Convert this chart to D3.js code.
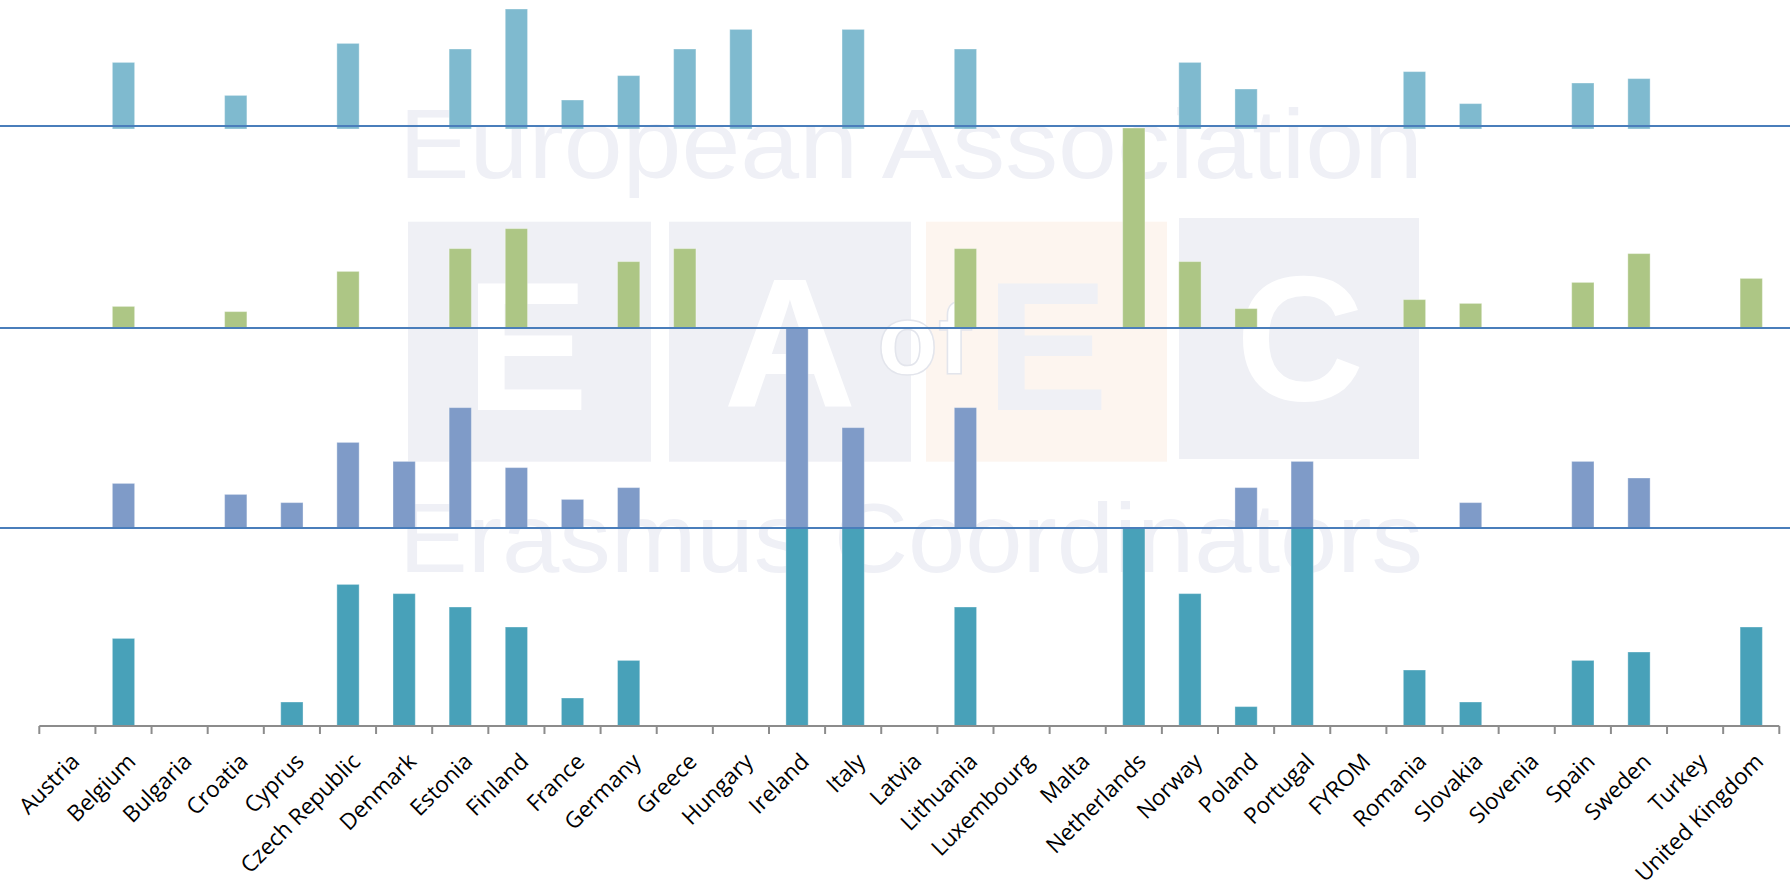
<!DOCTYPE html>
<html>
<head>
<meta charset="utf-8">
<script src="https://cdn.jsdelivr.net/npm/d3@7"></script>
<style>
html, body { margin: 0; padding: 0; background: #ffffff; }
svg { display: block; }
</style>
</head>
<body>
<svg id="chart" width="1790" height="888"></svg>
<script>
// ---------------- DATA ----------------
const categories = ["Austria", "Belgium", "Bulgaria", "Croatia", "Cyprus", "Czech Republic", "Denmark",
  "Estonia", "Finland", "France", "Germany", "Greece", "Hungary", "Ireland", "Italy", "Latvia",
  "Lithuania", "Luxembourg", "Malta", "Netherlands", "Norway", "Poland", "Portugal", "FYROM",
  "Romania", "Slovakia", "Slovenia", "Spain", "Sweden", "Turkey", "United Kingdom"];

// bottom panel (teal)
const seriesBottom = [0, 43.8, 0, 0, 12, 70.8, 66.2, 59.5, 49.5, 14, 32.8, 0, 0, 100, 100, 0,
  59.5, 0, 0, 100, 66.2, 9.7, 100, 0, 28, 12, 0, 32.8, 37, 0, 49.5];
// third panel (slate blue)
const seriesThird = [0, 22.3, 0, 16.8, 12.7, 42.8, 33.3, 60.2, 30.2, 14.3, 20.2, 0, 0, 100, 50.2, 0,
  60.2, 0, 0, 0, 0, 20.2, 33.3, 0, 0, 12.7, 0, 33.3, 25, 0, 0];
// second panel (green)
const seriesSecond = [0, 10.8, 0, 8.2, 0, 28.3, 0, 39.7, 49.7, 0, 33.2, 39.7, 0, 0, 0, 0,
  39.7, 0, 0, 100, 33.2, 9.7, 0, 0, 14.2, 12.3, 0, 22.8, 37.2, 0, 24.8];
// top panel (light blue)
const seriesTop = [0, 31.8, 0, 15.3, 0, 41.3, 0, 38.5, 58.5, 13, 25.2, 38.5, 48.3, 0, 48.3, 0,
  38.5, 0, 0, 0, 31.8, 18.5, 0, 0, 27.2, 11.2, 0, 21.5, 23.7, 0, 0];

const seriesList = [seriesBottom, seriesThird, seriesSecond, seriesTop];
const seriesColors = ["#48a1b9", "#7f9bc8", "#adc685", "#7fbacf"];

// ---------------- LAYOUT ----------------
const W = 1790, H = 888;
const axisLeft = 39.3, axisRight = 1779.3;
const panelHeights = [198, 200, 202, 200];
const axisY = 726;
const svg = d3.select("#chart");

svg.append("rect").attr("width", W).attr("height", H).attr("fill", "#ffffff");

// ---------------- WATERMARK ----------------
const wm = svg.append("g").attr("class", "watermark");
const wmGray = "#eff0f5";
const blocks = [
  {x: 408, y: 221.7, w: 243, h: 240, fill: wmGray},
  {x: 669, y: 221.7, w: 242, h: 240, fill: wmGray},
  {x: 926, y: 221.7, w: 241, h: 240, fill: "#fdf5ef"},
  {x: 1179, y: 218, w: 240, h: 241, fill: wmGray}
];
wm.selectAll("rect.blk").data(blocks).join("rect").attr("class", "blk")
  .attr("x", d => d.x).attr("y", d => d.y).attr("width", d => d.w).attr("height", d => d.h)
  .attr("fill", d => d.fill);

const letters = [
  {t: "E", x: 527, y: 410, s: 184, fill: "#ffffff"},
  {t: "A", x: 790, y: 406, s: 184, fill: "#ffffff"},
  {t: "E", x: 1047, y: 410, s: 184, fill: wmGray},
  {t: "C", x: 1300, y: 400, s: 178, fill: "#ffffff"}
];
wm.selectAll("text.lt").data(letters).join("text").attr("class", "lt")
  .attr("x", d => d.x).attr("y", d => d.y)
  .attr("text-anchor", "middle")
  .attr("font-family", "'Liberation Sans', Arial, sans-serif")
  .attr("font-weight", "bold")
  .attr("font-size", d => d.s)
  .attr("fill", d => d.fill)
  .text(d => d.t);

wm.append("text")
  .attr("x", 877).attr("y", 374)
  .attr("font-family", "'Liberation Sans', Arial, sans-serif")
  .attr("font-weight", "bold").attr("font-size", 100)
  .attr("fill", "#ffffff").attr("stroke", "#e3e5ec").attr("stroke-width", 1.5)
  .text("of");

const wmTexts = [
  {t: "European Association", y: 178.3},
  {t: "Erasmus Coordinators", y: 571.7}
];
wm.selectAll("text.wt").data(wmTexts).join("text").attr("class", "wt")
  .attr("x", 399).attr("y", d => d.y)
  .attr("font-family", "'Liberation Sans', Arial, sans-serif")
  .attr("font-size", 98)
  .attr("textLength", 1024).attr("lengthAdjust", "spacingAndGlyphs")
  .attr("fill", "#eff0f6")
  .text(d => d.t);

// ---------------- SCALES ----------------
const x = d3.scaleBand().domain(categories).range([axisLeft, axisRight]).padding(0);
const barW = x.bandwidth() * 0.397;

let base = axisY;
const panels = panelHeights.map((h, i) => {
  const y = d3.scaleLinear().domain([0, h / 2]).range([base, base - h]).clamp(true);
  const p = {base, top: base - h, y};
  base -= h;
  return p;
});

// ---------------- BARS ----------------
const overlap = [0, 0, 0, 3];
seriesList.forEach((vals, i) => {
  const p = panels[i];
  const data = categories.map((c, k) => ({c, v: vals[k]})).filter(d => d.v > 0);
  svg.append("g").selectAll("rect").data(data).join("rect")
    .attr("x", d => x(d.c) + (x.bandwidth() - barW) / 2)
    .attr("width", barW)
    .attr("y", d => p.y(d.v))
    .attr("height", d => p.base + overlap[i] - p.y(d.v))
    .attr("fill", seriesColors[i])
    .attr("stroke", "rgba(255,255,255,0.35)")
    .attr("stroke-width", 1);
});

// ---------------- SEPARATOR LINES ----------------
svg.append("g").selectAll("line").data(panels.slice(0, 3)).join("line")
  .attr("x1", 0).attr("x2", W)
  .attr("y1", d => d.top).attr("y2", d => d.top)
  .attr("stroke", "#4a7ebb").attr("stroke-width", 2);

// ---------------- X AXIS ----------------
const axisG = svg.append("g").attr("transform", `translate(0,${axisY})`);
axisG.append("line").attr("x1", axisLeft).attr("x2", axisRight)
  .attr("y1", 0).attr("y2", 0).attr("stroke", "#8c8c8c").attr("stroke-width", 2);
const tickXs = categories.map(c => x(c)).concat([axisRight]);
axisG.selectAll("line.tk").data(tickXs).join("line").attr("class", "tk")
  .attr("x1", d => d).attr("x2", d => d).attr("y1", 0).attr("y2", 8)
  .attr("stroke", "#8c8c8c").attr("stroke-width", 2);

axisG.selectAll("text.lbl").data(categories).join("text").attr("class", "lbl")
  .attr("transform", d => `translate(${x(d) + x.bandwidth() / 2 + 13.5},37) rotate(-45)`)
  .attr("text-anchor", "end")
  .attr("font-family", "'Open Sans', sans-serif")
  .attr("font-size", 22.5)
  .attr("fill", "#000000")
  .text(d => d);
</script>
</body>
</html>
